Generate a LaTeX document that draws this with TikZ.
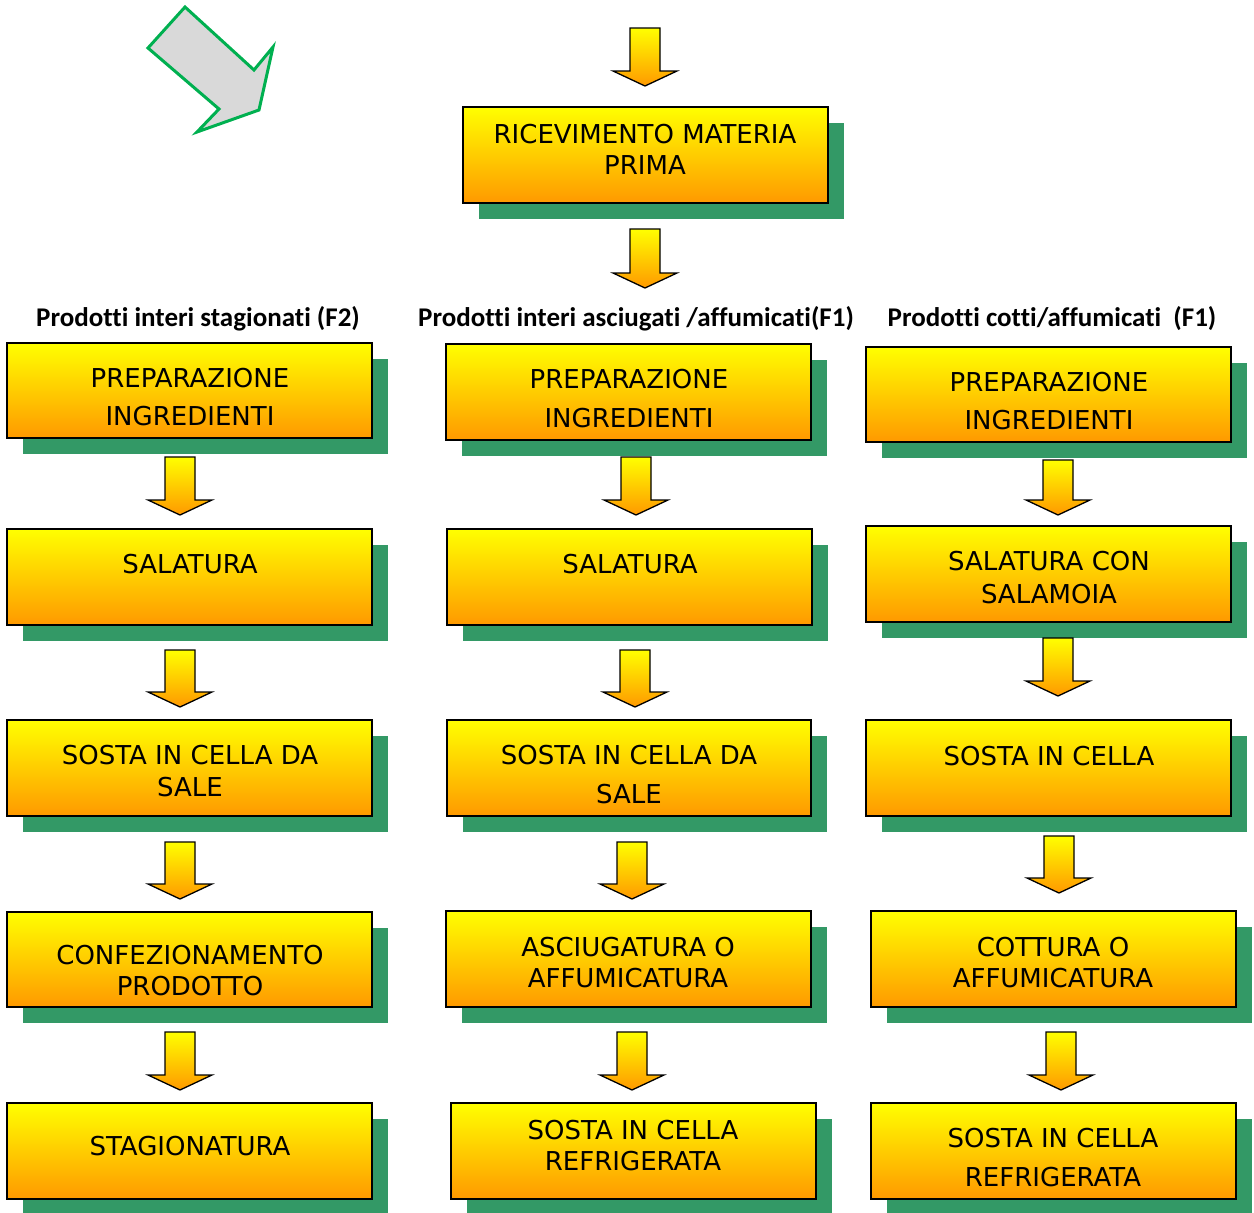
\documentclass[tikz,border=0pt]{standalone}
\usepackage{fontspec}
\setmainfont{DejaVu Sans}
\newfontfamily\headfont[Ligatures={NoCommon,NoContextual}]{Carlito}
\usetikzlibrary{shadows}

\definecolor{boxtop}{HTML}{FFFF00}
\definecolor{boxbot}{HTML}{FF9900}
\definecolor{shadowgreen}{HTML}{339966}
\definecolor{arrowgreen}{HTML}{00B050}
\definecolor{arrowgrey}{HTML}{D9D9D9}

\tikzset{
  stepbox/.style={draw=black, line width=2pt, top color=boxtop, bottom color=boxbot,
    inner sep=0pt, outer sep=0pt, anchor=north west,
    general shadow={fill=shadowgreen, shadow xshift=16pt, shadow yshift=-16pt}},
  lbl/.style={font=\fontsize{26}{30}\selectfont, text height=19pt, text depth=0pt,
    inner sep=0pt, anchor=center},
  head/.style={font=\headfont\bfseries\fontsize{27}{32}\selectfont, inner sep=0pt, anchor=base},
  flowarrow/.style={draw=black, line width=1.3pt, line join=miter, top color=boxtop, bottom color=boxbot},
}

% process box: name, left, top, right, bottom
\newcommand\procbox[5]{%
  \node[stepbox, minimum width={(#4-#2)*1pt}, minimum height={(#5-#3)*1pt}] (#1) at (#2,#3) {};}
% block arrow pointing down: centre x, top of shaft, tip
\newcommand\blockarrow[3]{%
  \path[flowarrow] (#1-15,#2) -- (#1+15,#2) -- (#1+15,#3-15) -- (#1+32,#3-15)
    -- (#1,#3) -- (#1-32,#3-15) -- (#1-15,#3-15) -- cycle;}

\begin{document}
\begin{tikzpicture}[x=1pt, y=-1pt]
\useasboundingbox (0,0) rectangle (1254,1213);

% start marker
\draw[arrowgreen, line width=3pt, fill=arrowgrey, line join=miter]
  (148,48) -- (185,7) -- (254,70) -- (273,47) -- (259,110) -- (197,132) -- (219,109) -- cycle;

% reception
\blockarrow{645}{28}{86}
\procbox{rec}{463}{107}{828}{203}
\node[lbl] (rec-a) at (645,134) {RICEVIMENTO MATERIA};
\node[lbl] (rec-b) at (645,165) {PRIMA};
\blockarrow{645}{229}{288}

% column headings
\node[head] (h1) at (198,326) {Prodotti interi stagionati (F2)};
\node[head] (h2) at (636,326) {Prodotti interi asciugati /affumicati(F1)};
\node[head] (h3) at (1052,326) {Prodotti cotti/affumicati\ \ (F1)};

% column 1
\procbox{ca1}{7}{343}{372}{438}
\node[lbl] (ca1-a) at (190,378) {PREPARAZIONE};
\node[lbl] (ca1-b) at (190,416) {INGREDIENTI};
\blockarrow{180}{457}{515}
\procbox{ca2}{7}{529}{372}{625}
\node[lbl] (ca2-a) at (190,564) {SALATURA};
\blockarrow{180}{650}{707}
\procbox{ca3}{7}{720}{372}{816}
\node[lbl] (ca3-a) at (190,755) {SOSTA IN CELLA DA};
\node[lbl] (ca3-b) at (190,787) {SALE};
\blockarrow{180}{842}{899}
\procbox{ca4}{7}{912}{372}{1007}
\node[lbl] (ca4-a) at (190,955) {CONFEZIONAMENTO};
\node[lbl] (ca4-b) at (190,986) {PRODOTTO};
\blockarrow{180}{1032}{1090}
\procbox{ca5}{7}{1103}{372}{1199}
\node[lbl] (ca5-a) at (190,1146) {STAGIONATURA};

% column 2
\procbox{cb1}{446}{344}{811}{440}
\node[lbl] (cb1-a) at (629,379) {PREPARAZIONE};
\node[lbl] (cb1-b) at (629,418) {INGREDIENTI};
\blockarrow{636}{457}{515}
\procbox{cb2}{447}{529}{812}{625}
\node[lbl] (cb2-a) at (630,564) {SALATURA};
\blockarrow{635}{650}{707}
\procbox{cb3}{447}{720}{811}{816}
\node[lbl] (cb3-a) at (629,755) {SOSTA IN CELLA DA};
\node[lbl] (cb3-b) at (629,794) {SALE};
\blockarrow{632}{842}{899}
\procbox{cb4}{446}{911}{811}{1007}
\node[lbl] (cb4-a) at (628,947) {ASCIUGATURA O};
\node[lbl] (cb4-b) at (628,978) {AFFUMICATURA};
\blockarrow{632}{1032}{1090}
\procbox{cb5}{451}{1103}{816}{1199}
\node[lbl] (cb5-a) at (633,1130) {SOSTA IN CELLA};
\node[lbl] (cb5-b) at (633,1161) {REFRIGERATA};

% column 3
\procbox{cc1}{866}{347}{1231}{442}
\node[lbl] (cc1-a) at (1049,382) {PREPARAZIONE};
\node[lbl] (cc1-b) at (1049,420) {INGREDIENTI};
\blockarrow{1058}{460}{515}
\procbox{cc2}{866}{526}{1231}{622}
\node[lbl] (cc2-a) at (1049,561) {SALATURA CON};
\node[lbl] (cc2-b) at (1049,594) {SALAMOIA};
\blockarrow{1058}{638}{696}
\procbox{cc3}{866}{720}{1231}{816}
\node[lbl] (cc3-a) at (1049,756) {SOSTA IN CELLA};
\blockarrow{1059}{836}{893}
\procbox{cc4}{871}{911}{1236}{1007}
\node[lbl] (cc4-a) at (1053,947) {COTTURA O};
\node[lbl] (cc4-b) at (1053,978) {AFFUMICATURA};
\blockarrow{1061}{1032}{1090}
\procbox{cc5}{871}{1103}{1236}{1199}
\node[lbl] (cc5-a) at (1053,1138) {SOSTA IN CELLA};
\node[lbl] (cc5-b) at (1053,1177) {REFRIGERATA};
\end{tikzpicture}
\end{document}
